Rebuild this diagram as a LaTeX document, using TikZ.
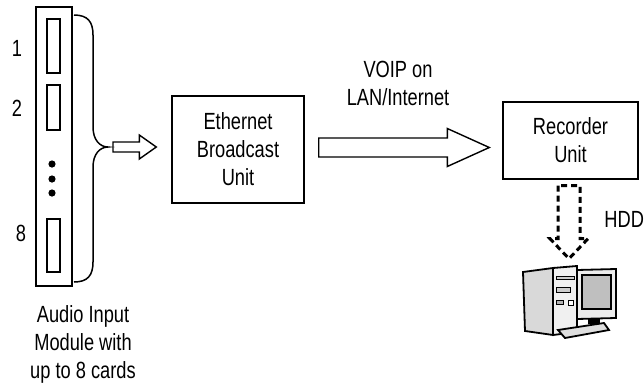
\documentclass[tikz,border=0pt]{standalone}
\usepackage{fontspec}
\setmainfont{Liberation Sans}[FakeStretch=0.78]
\usetikzlibrary{positioning, calc}

\begin{document}
\begin{tikzpicture}[x=0.5pt, y=-0.5pt, line join=miter]
  % Set the styles
  \tikzset{
    txt/.style={font=\fontsize{11.7}{14}\selectfont, align=center, inner sep=0pt},
    unitbox/.style={draw, line width=0.7pt, txt},
    slot/.style={draw, line width=0.6pt, minimum width=6.5pt, inner sep=0pt},
    hollow/.style={draw, line width=0.7pt},
    dashhollow/.style={draw, line width=1.5pt, dash pattern=on 3pt off 2pt},
  }
  \useasboundingbox (0,0) rectangle (644,387);

  % Audio input module with its cards
  \node[draw, line width=0.7pt, minimum width=18pt, minimum height=139.5pt, inner sep=0pt] (module) at (54,146.5) {};
  \node[slot, minimum height=27pt] (card1) at (53.5,46) {};
  \node[slot, minimum height=22.5pt] (card2) at (53.5,107.5) {};
  \node[slot, minimum height=26.5pt] (card8) at (53.5,245.5) {};
  \foreach \y in {164,179,193}{
    \fill (52,\y) circle (1.8pt);
  }
  \node[txt] (n1) at (17,48) {1};
  \node[txt] (n2) at (17,108) {2};
  \node[txt] (n8) at (21,233) {8};
  \node[txt] (modlabel) at (83,344) {Audio Input\\Module with\\up to 8 cards};

  % Brace round the cards
  \coordinate (tip) at (108,147);
  \draw[line width=0.75pt] (74,15) .. controls (88,15) and (93,22) .. (93,35) -- (93,127)
    .. controls (93,140) and (100,147) .. (tip) .. controls (100,147) and (93,154) .. (93,167)
    -- (93,262) .. controls (93,275) and (88,282) .. (74,282);

  % Units
  \node[unitbox, minimum width=66pt, minimum height=53.5pt] (ebu) at (238,149.5) {Ethernet\\Broadcast\\Unit};
  \node[unitbox, minimum width=67.5pt, minimum height=38.5pt] (rec) at (570.5,140.5) {Recorder\\Unit};
  \node[txt] (voip) at (398,83) {VOIP on\\LAN/Internet};

  % Hollow arrows between them
  \coordinate (a1) at ($(tip)+(5,0)$);
  \coordinate (a2) at ($(ebu.west |- tip)+(-15,0)$);
  \draw[hollow] ($(a1)+(0,-5)$) -- ($(a2)+(-17,-5)$) -- ($(a2)+(-17,-12)$) -- (a2)
    -- ($(a2)+(-17,12)$) -- ($(a2)+(-17,5)$) -- ($(a1)+(0,5)$) -- cycle;

  \coordinate (b1) at ($(ebu.east)+(14,-2)$);
  \coordinate (b2) at ($(rec.west |- b1)+(-13,0)$);
  \draw[hollow] ($(b1)+(0,-9.5)$) -- ($(b2)+(-42,-9.5)$) -- ($(b2)+(-42,-19)$) -- (b2)
    -- ($(b2)+(-42,19)$) -- ($(b2)+(-42,9.5)$) -- ($(b1)+(0,9.5)$) -- cycle;

  % Dashed arrow down to the disk
  \coordinate (d1) at ($(rec.south)+(-1.5,6)$);
  \coordinate (d2) at ($(d1)+(0,73)$);
  \draw[dashhollow] ($(d1)+(-11,0)$) -- ($(d2)+(-11,-20)$) -- ($(d2)+(-19,-20)$) -- (d2)
    -- ($(d2)+(19,-20)$) -- ($(d2)+(11,-20)$) -- ($(d1)+(11,0)$) -- cycle;
  \node[txt, anchor=west] (hdd) at (604,219) {HDD};

  % Computer
  \coordinate (pc) at (570,300);
  \begin{scope}[shift={(pc)}, line width=0.9pt]
    \filldraw[fill=gray!30] (-47,-28) -- (-17,-32) -- (-17,35) -- (-45,31) -- cycle;
    \filldraw[fill=gray!12] (-17,-32) -- (7,-34) -- (7,32) -- (-17,35) -- cycle;
    \draw[line width=0.5pt, fill=gray!40] (-14,-24) rectangle (4,-21);
    \draw[line width=0.5pt, fill=gray!40] (-14,-13) rectangle (0,-8);
    \draw[line width=0.5pt, fill=gray!60] (-14,0) rectangle (-7,4);
    \draw[line width=0.5pt, fill=white] (-2,0) rectangle (3,5);
    \fill (18,18) rectangle (30,24);
    \filldraw[fill=gray!25] (-12,30) -- (34,23) -- (39,30) -- (-5,38) -- cycle;
    \filldraw[fill=gray!15] (7,-30) -- (46,-31) -- (46,18) -- (7,19) -- cycle;
    \filldraw[fill=gray!50, line width=0.6pt] (12,-25) rectangle (41,9);
  \end{scope}
\end{tikzpicture}
\end{document}
